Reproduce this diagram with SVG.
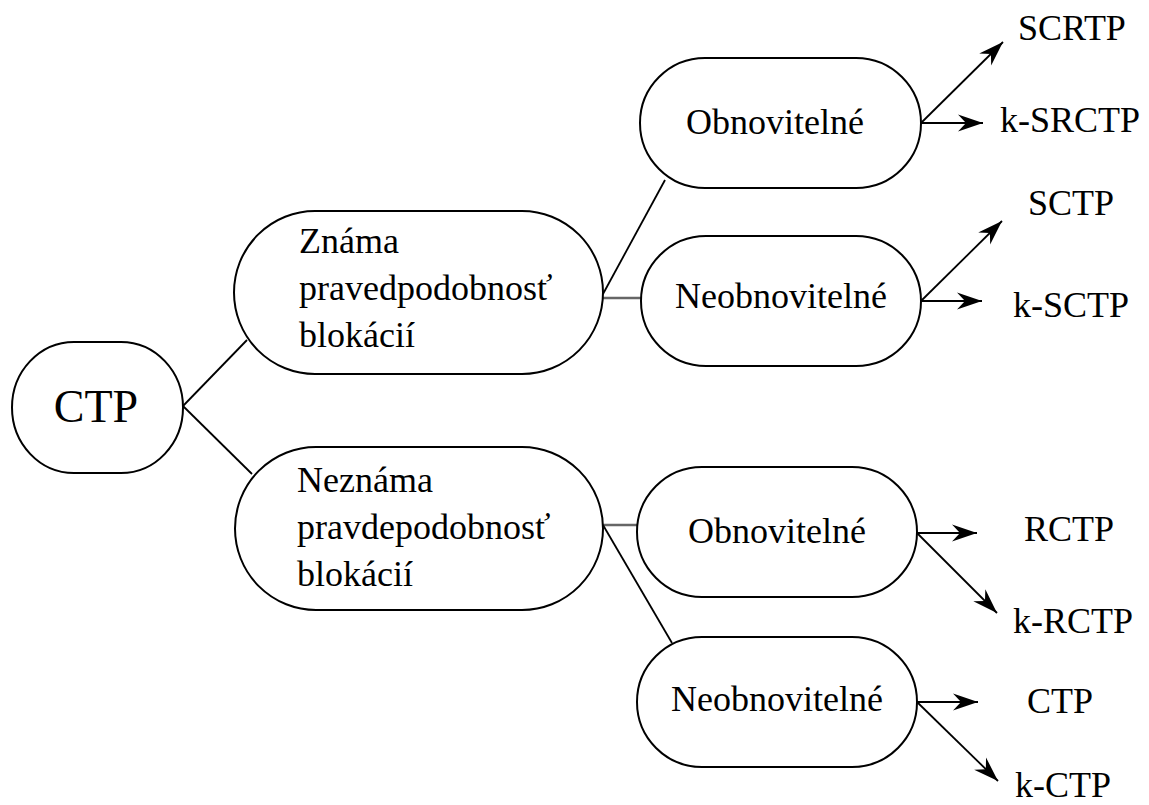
<svg xmlns="http://www.w3.org/2000/svg" width="1149" height="805" viewBox="0 0 1149 805">
<style>
.node{fill:#fff;stroke:#000;stroke-width:2}
.t{font-family:"Liberation Serif","Times New Roman",serif;font-size:36px;fill:#000}
.c{text-anchor:middle}
.ln{stroke:#000;stroke-width:1.8;fill:none}
.gr{stroke:#666;stroke-width:2.5;fill:none}
.ar{stroke:#000;stroke-width:1.8;fill:none;marker-end:url(#ah)}
</style>
<defs>
<marker id="ah" markerUnits="userSpaceOnUse" markerWidth="28" markerHeight="20" viewBox="-26 -10 28 20" refX="0" refY="0" orient="auto">
<path d="M0,0 L-25,-8.5 L-17,0 L-25,8.5 Z" fill="#000"/>
</marker>
</defs>
<rect width="1149" height="805" fill="#fff"/>
<g id="connectors">
<line class="ln" x1="183" y1="406" x2="247" y2="340"/>
<line class="ln" x1="183" y1="406" x2="252" y2="474"/>
<line class="ln" x1="603" y1="294" x2="665" y2="180"/>
<line class="gr" x1="603" y1="298" x2="641" y2="298"/>
<line class="gr" x1="603" y1="525" x2="637" y2="525"/>
<line class="ln" x1="603" y1="525" x2="672" y2="643"/>
<line class="ar" x1="921" y1="123" x2="1003" y2="42"/>
<line class="ar" x1="921" y1="123" x2="983" y2="123"/>
<line class="ar" x1="921" y1="301" x2="1002" y2="221"/>
<line class="ar" x1="921" y1="301" x2="982" y2="301"/>
<line class="ar" x1="917" y1="533" x2="977" y2="533"/>
<line class="ar" x1="917" y1="533" x2="997" y2="613"/>
<line class="ar" x1="917" y1="702" x2="978" y2="702"/>
<line class="ar" x1="917" y1="702" x2="998" y2="781"/>
</g>
<g id="ctp">
<rect class="node" x="12" y="342" width="171" height="131" rx="62" ry="65.5"/>
<text class="t c" x="96" y="422" style="font-size:46px">CTP</text>
</g>
<g id="znama">
<rect class="node" x="234" y="211" width="369" height="163" rx="81" ry="81.5"/>
<text class="t" x="299" y="253">Známa</text>
<text class="t" x="299" y="300">pravedpodobnosť</text>
<text class="t" x="299" y="347">blokácií</text>
</g>
<g id="neznama">
<rect class="node" x="235" y="447" width="368" height="163" rx="81" ry="81.5"/>
<text class="t" x="297" y="492">Neznáma</text>
<text class="t" x="297" y="539">pravdepodobnosť</text>
<text class="t" x="297" y="586">blokácií</text>
</g>
<g id="obn1">
<rect class="node" x="640" y="58" width="281" height="130" rx="65" ry="65"/>
<text class="t c" x="775" y="134">Obnovitelné</text>
</g>
<g id="neobn1">
<rect class="node" x="641" y="236" width="280" height="130" rx="65" ry="65"/>
<text class="t c" x="781" y="308">Neobnovitelné</text>
</g>
<g id="obn2">
<rect class="node" x="637" y="467" width="280" height="130" rx="65" ry="65"/>
<text class="t c" x="777" y="543">Obnovitelné</text>
</g>
<g id="neobn2">
<rect class="node" x="637" y="637" width="280" height="130" rx="65" ry="65"/>
<text class="t c" x="777" y="711">Neobnovitelné</text>
</g>
<g id="labels">
<text class="t" x="1018" y="40">SCRTP</text>
<text class="t" x="1000" y="132">k-SRCTP</text>
<text class="t" x="1028" y="215">SCTP</text>
<text class="t" x="1013" y="317">k-SCTP</text>
<text class="t" x="1024" y="541">RCTP</text>
<text class="t" x="1013" y="633">k-RCTP</text>
<text class="t" x="1027" y="713">CTP</text>
<text class="t" x="1015" y="797">k-CTP</text>
</g>
</svg>
